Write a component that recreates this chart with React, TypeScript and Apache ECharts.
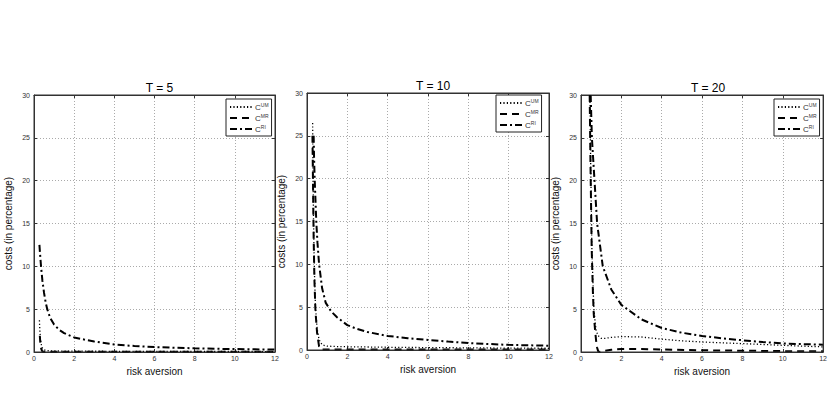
import React, { useEffect, useRef } from "react";
import * as echarts from "echarts";

// ---- Data ----
const panelTitles = ["T = 5", "T = 10", "T = 20"];
const xTicks = [0, 2, 4, 6, 8, 10, 12];
const yTicks = [0, 5, 10, 15, 20, 25, 30];

// T = 5
const x5um = [0.27, 0.29, 0.31, 0.34, 0.37, 0.4, 0.45, 0.55, 0.7, 1, 2, 3, 4, 6, 8, 10, 12];
const um5 = [3.7, 2.6, 1.8, 1.2, 0.8, 0.55, 0.35, 0.22, 0.15, 0.12, 0.1, 0.09, 0.08, 0.07, 0.06, 0.06, 0.05];
const x5mr = [0.29, 0.31, 0.34, 0.37, 0.4, 0.45, 0.55, 0.7, 1, 2, 4, 6, 8, 10, 12];
const mr5 = [1.9, 1.2, 0.6, 0.3, 0.12, 0.04, 0.02, 0.02, 0.02, 0.02, 0.02, 0.02, 0.02, 0.02, 0.02];
const x5ri = [0.27, 0.3, 0.35, 0.42, 0.5, 0.58, 0.66, 0.8, 1, 1.25, 1.5, 2, 2.5, 3, 4, 5, 6, 7, 8, 9, 10, 11, 12];
const ri5 = [12.5, 11.5, 10, 8.3, 6.9, 5.8, 5, 4.0, 3.2, 2.6, 2.2, 1.7, 1.45, 1.22, 0.88, 0.7, 0.58, 0.5, 0.43, 0.38, 0.34, 0.31, 0.28];

// T = 10
const x10um = [0.28, 0.3, 0.33, 0.37, 0.42, 0.5, 0.6, 0.75, 1, 1.5, 2, 3, 4, 6, 8, 10, 12];
const um10 = [26.5, 20, 14, 9, 5, 2.5, 1.2, 0.6, 0.45, 0.4, 0.38, 0.35, 0.32, 0.28, 0.25, 0.22, 0.2];
const x10mr = [0.27, 0.3, 0.33, 0.37, 0.42, 0.5, 0.6, 0.7, 1, 2, 4, 6, 8, 10, 12];
const mr10 = [25, 19, 13, 8, 4.5, 2, 0.4, 0.06, 0.05, 0.05, 0.05, 0.05, 0.05, 0.05, 0.05];
const x10ri = [0.33, 0.35, 0.38, 0.42, 0.46, 0.52, 0.6, 0.75, 0.93, 1.2, 1.5, 2, 2.5, 3, 4, 5, 6, 7, 8, 9, 10, 11, 12];
const ri10 = [25, 22.5, 20, 17.5, 15, 12.5, 10, 7.2, 5.5, 4.5, 3.8, 2.9, 2.45, 2.1, 1.64, 1.38, 1.17, 0.98, 0.82, 0.7, 0.6, 0.55, 0.5];

// T = 20
const x20um = [0.44, 0.46, 0.48, 0.51, 0.54, 0.6, 0.64, 0.7, 0.75, 0.85, 1.0, 1.2, 1.5, 2, 3, 4, 5, 6, 7, 8, 9, 10, 11, 12];
const um20 = [30, 26, 22, 17, 12, 7.5, 5, 3.5, 2.5, 1.9, 1.6, 1.6, 1.7, 1.8, 1.75, 1.5, 1.3, 1.17, 1.07, 0.98, 0.88, 0.78, 0.68, 0.6];
const x20mr = [0.43, 0.45, 0.47, 0.5, 0.53, 0.59, 0.63, 0.7, 0.75, 0.8, 0.85, 0.92, 1.0, 1.2, 1.5, 2, 3, 4, 6, 8, 10, 12];
const mr20 = [30, 26, 22, 17, 12, 7, 4.5, 2.5, 1.3, 0.5, 0.1, 0, 0.05, 0.15, 0.25, 0.35, 0.35, 0.3, 0.2, 0.15, 0.1, 0.08];
const x20ri = [0.48, 0.54, 0.67, 0.8, 1.08, 1.5, 2, 3, 4, 5, 6, 7, 8, 9, 10, 11, 12];
const ri20 = [30, 25, 20, 15, 10, 7.3, 5.5, 3.8, 2.8, 2.25, 1.87, 1.6, 1.37, 1.17, 1.0, 0.92, 0.86];

const seriesNames = ["UM", "MR", "RI"];
const panelData = [
  [[x5um, um5], [x5mr, mr5], [x5ri, ri5]],
  [[x10um, um10], [x10mr, mr10], [x10ri, ri10]],
  [[x20um, um20], [x20mr, mr20], [x20ri, ri20]],
];

// ---- Layout / styles ----
const grids = [
  { left: 34, top: 95, width: 241, height: 257 },
  { left: 307, top: 93, width: 242, height: 257 },
  { left: 581, top: 95, width: 244, height: 257 },
];
const legendBoxes = [
  { left: 226, top: 99 },
  { left: 496, top: 95 },
  { left: 774, top: 99 },
];
const FONT = "'Liberation Sans', Arial, sans-serif";
const lineStyles = [
  { type: [1.2, 2.2], width: 1.3 },
  { type: [7, 5], width: 2 },
  { type: [7, 3, 2, 3], width: 2 },
];

export default function App() {
  const ref = useRef<HTMLDivElement>(null);
  useEffect(() => {
    if (!ref.current) return;
    const chart = echarts.init(ref.current, null, { renderer: "svg" });
    const xAxes: any[] = [];
    const yAxes: any[] = [];
    const series: any[] = [];
    const titles: any[] = [];
    const legends: any[] = [];
    const tickStyle = { show: true, inside: true, length: 3, lineStyle: { color: "#333" } };
    const splitStyle = { show: true, lineStyle: { color: "#aaa", type: [1, 2], width: 1 } };

    grids.forEach((g, i) => {
      xAxes.push({
        type: "value",
        gridIndex: i,
        min: xTicks[0],
        max: xTicks[xTicks.length - 1],
        interval: 2,
        name: "risk aversion",
        nameLocation: "middle",
        nameGap: 11,
        nameTextStyle: { fontSize: 10, color: "#111", fontFamily: FONT },
        axisLine: { show: true, onZero: false, lineStyle: { color: "#333", width: 1 } },
        axisTick: tickStyle,
        axisLabel: { fontSize: 7, color: "#333", margin: 3, fontFamily: FONT },
        splitLine: splitStyle,
      });
      xAxes.push({
        type: "value",
        gridIndex: i,
        position: "top",
        min: xTicks[0],
        max: xTicks[xTicks.length - 1],
        interval: 2,
        axisLine: { show: true, onZero: false, lineStyle: { color: "#333" } },
        axisTick: tickStyle,
        axisLabel: { show: false },
        splitLine: { show: false },
      });
      yAxes.push({
        type: "value",
        gridIndex: i,
        min: yTicks[0],
        max: yTicks[yTicks.length - 1],
        interval: 5,
        name: "costs (in percentage)",
        nameLocation: "middle",
        nameGap: 21,
        nameTextStyle: { fontSize: 10, color: "#111", fontFamily: FONT },
        axisLine: { show: true, onZero: false, lineStyle: { color: "#333", width: 1 } },
        axisTick: tickStyle,
        axisLabel: { fontSize: 7, color: "#333", margin: 4, fontFamily: FONT },
        splitLine: splitStyle,
      });
      yAxes.push({
        type: "value",
        gridIndex: i,
        position: "right",
        min: yTicks[0],
        max: yTicks[yTicks.length - 1],
        interval: 5,
        axisLine: { show: true, onZero: false, lineStyle: { color: "#333" } },
        axisTick: tickStyle,
        axisLabel: { show: false },
        splitLine: { show: false },
      });
      titles.push({
        text: panelTitles[i],
        left: g.left + g.width / 2,
        top: g.top - 18,
        textAlign: "center",
        textStyle: { fontSize: 12, fontWeight: "normal", color: "#000", fontFamily: FONT },
      });
      legends.push({
        data: seriesNames,
        orient: "vertical",
        left: legendBoxes[i].left,
        top: legendBoxes[i].top,
        itemWidth: 22,
        itemHeight: 8,
        itemGap: 2,
        padding: [3, 3, 3, 3],
        borderColor: "#222",
        borderWidth: 1,
        backgroundColor: "#fff",
        selectedMode: false,
        itemStyle: { color: "rgba(0,0,0,0)", borderWidth: 0, opacity: 0 },
        formatter: (name: string) => `{c|C}{s|${name}}`,
        textStyle: {
          fontFamily: FONT,
          color: "#333",
          padding: [0, 0, 0, -2],
          rich: {
            c: { fontSize: 8, color: "#333", fontFamily: FONT },
            s: { fontSize: 5, color: "#333", fontFamily: FONT, padding: [0, 0, 5, 0] },
          },
        },
      });
      panelData[i].forEach((pair, k) => {
        const [xs, ys] = pair;
        series.push({
          type: "line",
          name: seriesNames[k],
          xAxisIndex: i * 2,
          yAxisIndex: i * 2,
          data: xs.map((x, j) => [x, ys[j]]),
          symbol: "none",
          clip: true,
          lineStyle: { color: "#000", ...lineStyles[k] },
          itemStyle: { color: "#000" },
          z: 3 - k,
        });
      });
    });

    chart.setOption({
      animation: false,
      backgroundColor: "#fff",
      textStyle: { fontFamily: FONT },
      title: titles,
      legend: legends,
      grid: grids.map((g) => ({
        ...g,
        show: true,
        borderColor: "#333",
        borderWidth: 1,
        backgroundColor: "transparent",
        containLabel: false,
        z: 3,
      })),
      xAxis: xAxes,
      yAxis: yAxes,
      series,
    });
    return () => chart.dispose();
  }, []);
  return (
    <div
      ref={ref}
      style={{ position: "absolute", left: 0, top: 0, width: 830, height: 396 }}
    />
  );
}
